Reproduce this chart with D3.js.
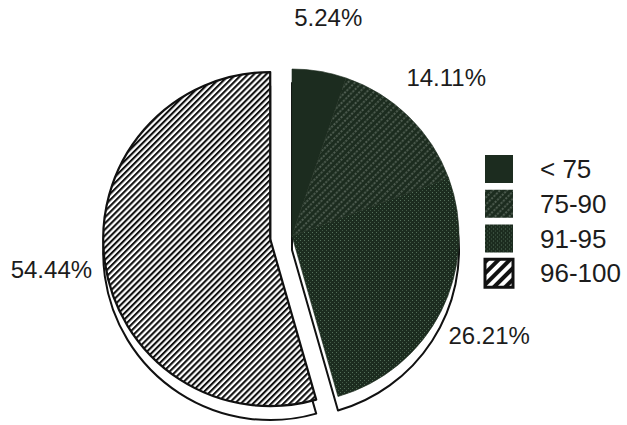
<!DOCTYPE html>
<html><head><meta charset="utf-8">
<script src="https://cdn.jsdelivr.net/npm/d3@7"></script>
<style>
html,body{margin:0;padding:0;background:#fff;}
svg{display:block;}
text{font-family:"Liberation Sans",Arial,Helvetica,sans-serif;fill:#1c1c1c;}
</style></head>
<body>
<svg id="chart" width="627" height="425"></svg>
<script>
const categories = ["< 75", "75-90", "91-95", "96-100"];
const values = [5.24, 14.11, 26.21, 54.44];
const valueLabels = ["5.24%", "14.11%", "26.21%", "54.44%"];
const patterns = ["solid", "dash", "dots", "hatch"];
const exploded = [false, false, false, true];

const W = 627, H = 425;
const cx = 292, cy = 236, R = 167, depth = 14, explode = 22, labelR = 221;
const dark = "#1c2c1f";

const svg = d3.select("#chart");
const defs = svg.append("defs");

// pie hatch (white with black "/" lines)
const ph = defs.append("pattern").attr("id", "p-hatch").attr("patternUnits", "userSpaceOnUse")
  .attr("width", 4.3).attr("height", 4.3).attr("patternTransform", "rotate(45)");
ph.append("rect").attr("width", 4.3).attr("height", 4.3).attr("fill", "#fff");
ph.append("rect").attr("x", 0).attr("y", -1).attr("width", 2.1).attr("height", 7).attr("fill", "#111");

// legend hatch (wider stripes)
const lh = defs.append("pattern").attr("id", "l-hatch").attr("patternUnits", "userSpaceOnUse")
  .attr("width", 8).attr("height", 8).attr("patternTransform", "rotate(45)");
lh.append("rect").attr("width", 8).attr("height", 8).attr("fill", "#fff");
lh.append("rect").attr("x", 0).attr("y", -1).attr("width", 4).attr("height", 10).attr("fill", "#111");

// dashes on dark
const pd = defs.append("pattern").attr("id", "p-dash").attr("patternUnits", "userSpaceOnUse")
  .attr("width", 5).attr("height", 10).attr("patternTransform", "rotate(45)");
pd.append("rect").attr("width", 5).attr("height", 10).attr("fill", dark);
pd.append("line").attr("x1", 1).attr("y1", 0).attr("x2", 1).attr("y2", 10)
  .attr("stroke", "#c4d0c4").attr("stroke-width", 0.9).attr("stroke-dasharray", "2,1.33")
  .attr("stroke-opacity", 0.65);

// dots on dark
const pdt = defs.append("pattern").attr("id", "p-dots").attr("patternUnits", "userSpaceOnUse")
  .attr("width", 4).attr("height", 4);
pdt.append("rect").attr("width", 4).attr("height", 4).attr("fill", dark);
pdt.append("rect").attr("x", 0).attr("y", 0).attr("width", 1).attr("height", 1).attr("fill", "#54705a");
pdt.append("rect").attr("x", 2).attr("y", 2).attr("width", 1).attr("height", 1).attr("fill", "#425a46");

function fillFor(p, legend) {
  if (p === "solid") return dark;
  if (p === "hatch") return legend ? "url(#l-hatch)" : "url(#p-hatch)";
  return "url(#p-" + p + ")";
}

const data = categories.map((c, i) => ({
  cat: c, value: values[i], label: valueLabels[i], pat: patterns[i], exp: exploded[i]
}));

const pie = d3.pie().sort(null).value(d => d.value).startAngle(0).endAngle(2 * Math.PI);
const arcs = pie(data);
const arc = d3.arc().innerRadius(0).outerRadius(R);
const labelArc = d3.arc().innerRadius(labelR).outerRadius(labelR);

function offset(a) {
  if (!a.data.exp) return [0, 0];
  const mid = (a.startAngle + a.endAngle) / 2;
  return [explode * Math.sin(mid), -explode * Math.cos(mid)];
}

const darkArcs = arcs.filter(a => !a.data.exp);
const darkAll = {startAngle: d3.min(darkArcs, a => a.startAngle), endAngle: d3.max(darkArcs, a => a.endAngle)};
const expArcs = arcs.filter(a => a.data.exp);

const g = svg.append("g").attr("transform", `translate(${cx},${cy})`);

// sides (extrusion)
expArcs.forEach(a => {
  const [ox, oy] = offset(a);
  g.append("path").attr("d", arc(a)).attr("transform", `translate(${ox},${oy + depth})`)
    .attr("fill", "#fff").attr("stroke", "#111").attr("stroke-width", 2).attr("stroke-linejoin", "round");
});
g.append("path").attr("d", arc(darkAll)).attr("transform", `translate(0,${depth})`)
  .attr("fill", "#fff").attr("stroke", "#111").attr("stroke-width", 2).attr("stroke-linejoin", "round");

// top faces
arcs.forEach(a => {
  const [ox, oy] = offset(a);
  g.append("path").attr("d", arc(a)).attr("transform", `translate(${ox},${oy})`)
    .attr("fill", fillFor(a.data.pat, false))
    .attr("stroke", a.data.exp ? "#111" : dark)
    .attr("stroke-width", a.data.exp ? 2.2 : 0.6)
    .attr("stroke-linejoin", "round");
});

// labels
arcs.forEach(a => {
  const [ox, oy] = offset(a);
  const [lx, ly] = labelArc.centroid(a);
  g.append("text").attr("x", lx + ox).attr("y", ly + oy).attr("dy", "0.35em")
    .attr("text-anchor", "middle").attr("font-size", 24)
    .attr("stroke", "#fff").attr("stroke-width", 5).attr("paint-order", "stroke")
    .style("stroke-linejoin", "round")
    .text(a.data.label);
});

// legend
const legend = svg.append("g").attr("transform", "translate(485,155)");
const ly = d3.scaleBand().domain(categories).range([0, 139]).paddingInner(0);
categories.forEach((c, i) => {
  const row = legend.append("g").attr("transform", `translate(0,${ly(c)})`);
  row.append("rect").attr("width", 28).attr("height", 28)
    .attr("fill", fillFor(patterns[i], true))
    .attr("stroke", "#111").attr("stroke-width", patterns[i] === "hatch" ? 3 : 0);
  row.append("text").attr("x", 55).attr("y", 23).attr("font-size", 26).text(c);
});
</script>
</body></html>
